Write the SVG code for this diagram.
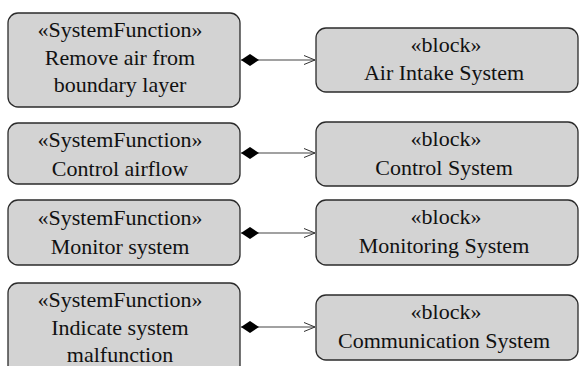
<svg xmlns="http://www.w3.org/2000/svg" width="579" height="366" viewBox="0 0 579 366">
  <defs>
    <marker id="composite" viewBox="0 0 18 12" refX="0" refY="6" markerWidth="18" markerHeight="12" markerUnits="userSpaceOnUse" orient="auto">
      <path d="M0,6 L9,0 L18,6 L9,12 Z" fill="#000"/>
    </marker>
    <marker id="open" viewBox="0 0 12 10" refX="11" refY="5" markerWidth="12" markerHeight="10" markerUnits="userSpaceOnUse" orient="auto">
      <path d="M0,0.5 L11,5 L0,9.5" fill="none" stroke="#333" stroke-width="1"/>
    </marker>
  </defs>
  <style>
    .box { fill: #d3d3d3; stroke: #2b2b2b; stroke-width: 1.3; }
    .lbl { font-size: 22px; fill: #111; text-anchor: middle; }
    .conn { stroke: #444; stroke-width: 1.2; fill: none; marker-start: url(#composite); marker-end: url(#open); }
  </style>

  <g font-family="Liberation Serif, Times New Roman, DejaVu Serif, Times, serif">
  <!-- system functions -->
  <g id="fn-remove-air">
    <rect class="box" x="8" y="13" width="232" height="94" rx="10"/>
    <text class="lbl" x="120" y="37">«SystemFunction»</text>
    <text class="lbl" x="120" y="65">Remove air from</text>
    <text class="lbl" x="120" y="92">boundary layer</text>
  </g>
  <g id="fn-control-airflow">
    <rect class="box" x="8" y="123" width="232" height="61" rx="10"/>
    <text class="lbl" x="120" y="147">«SystemFunction»</text>
    <text class="lbl" x="120" y="176">Control airflow</text>
  </g>
  <g id="fn-monitor">
    <rect class="box" x="8" y="200" width="232" height="65" rx="10"/>
    <text class="lbl" x="120" y="225">«SystemFunction»</text>
    <text class="lbl" x="120" y="254">Monitor system</text>
  </g>
  <g id="fn-indicate">
    <rect class="box" x="8" y="283" width="232" height="100" rx="10"/>
    <text class="lbl" x="120" y="307">«SystemFunction»</text>
    <text class="lbl" x="120" y="335">Indicate system</text>
    <text class="lbl" x="120" y="362">malfunction</text>
  </g>

  <!-- blocks -->
  <g id="blk-air-intake">
    <rect class="box" x="316" y="28" width="262" height="64" rx="10"/>
    <text class="lbl" x="446" y="52">«block»</text>
    <text class="lbl" x="444" y="80">Air Intake System</text>
  </g>
  <g id="blk-control">
    <rect class="box" x="316" y="122" width="262" height="64" rx="10"/>
    <text class="lbl" x="446" y="146">«block»</text>
    <text class="lbl" x="444" y="175">Control System</text>
  </g>
  <g id="blk-monitoring">
    <rect class="box" x="316" y="200" width="262" height="65" rx="10"/>
    <text class="lbl" x="446" y="224">«block»</text>
    <text class="lbl" x="444" y="253">Monitoring System</text>
  </g>
  <g id="blk-communication">
    <rect class="box" x="316" y="295" width="262" height="65" rx="10"/>
    <text class="lbl" x="446" y="319">«block»</text>
    <text class="lbl" x="444" y="348">Communication System</text>
  </g>
  </g>

  <!-- composition connectors -->
  <g id="connectors">
    <path class="conn" d="M241,60 H315"/>
    <path class="conn" d="M241,153 H315"/>
    <path class="conn" d="M241,233 H315"/>
    <path class="conn" d="M241,327 H315"/>
  </g>
</svg>
